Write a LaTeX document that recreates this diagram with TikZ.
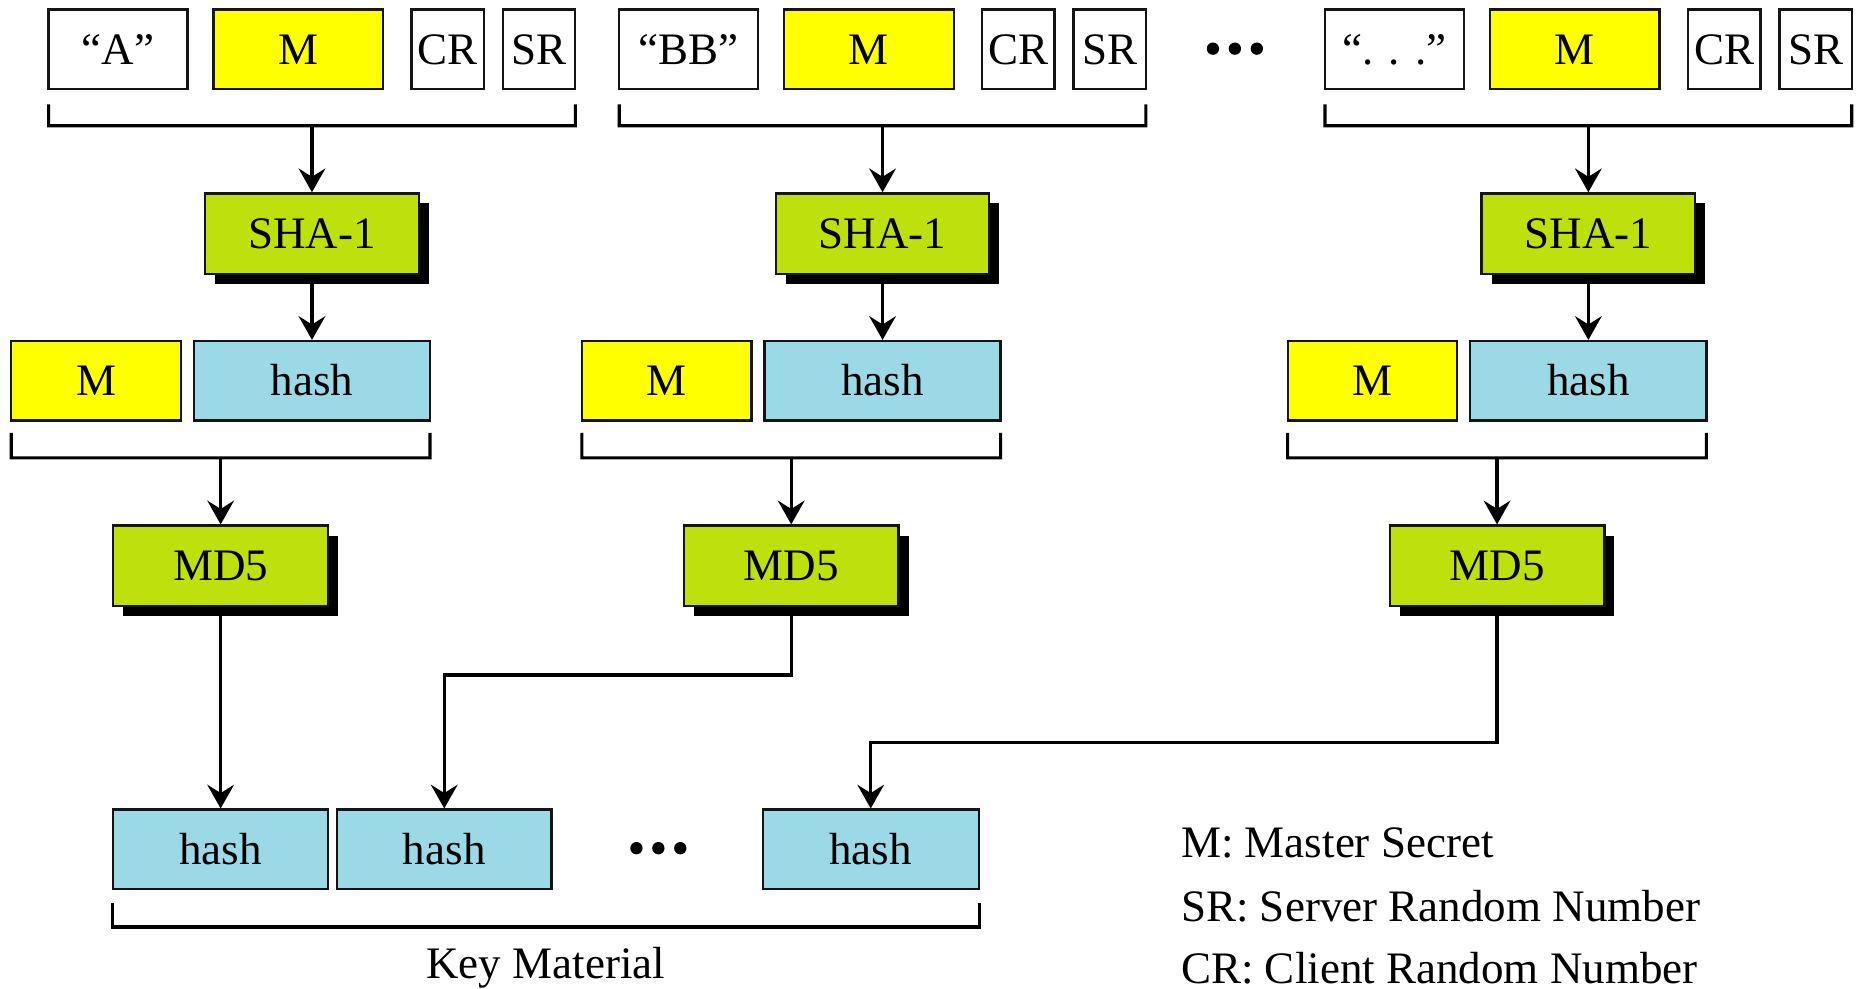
\documentclass[tikz,border=0pt]{standalone}
\usepackage{fontspec}
\setmainfont{Liberation Serif}
\usetikzlibrary{arrows.meta, shadows, positioning}
\definecolor{InkBlack}{RGB}{20, 20, 20}
\definecolor{MasterYellow}{RGB}{255, 255, 0}
\definecolor{DigestGreen}{RGB}{190, 224, 12}
\definecolor{HashBlue}{RGB}{155, 217, 230}

\begin{document}
\begin{tikzpicture}[y=-1cm, font=\fontsize{10.8}{13}\selectfont,
  field/.style={draw=InkBlack, line width=0.55pt, minimum height=0.67cm, inner sep=0pt, text height=7.2pt, text depth=0pt},
  plain/.style={field, fill=white},
  master/.style={field, fill=MasterYellow, minimum width=1.43cm},
  digest/.style={field, fill=HashBlue},
  algo/.style={field, fill=DigestGreen, minimum width=1.81cm, minimum height=0.68cm,
    drop shadow={shadow xshift=0.085cm, shadow yshift=-0.085cm, fill=black, opacity=1}},
  link/.style={line width=0.75pt, -{Stealth[length=2mm, width=2.25mm, inset=0.7mm]}},
  brace/.style={line width=0.75pt},
  legend/.style={anchor=base west, inner sep=0pt}]
\useasboundingbox (0,0) rectangle (15.68,8.33);

\foreach \gx/\tag [count=\i] in {0.41/“A”, 5.22/“BB”, 11.17/“. . .”} {
  \pgfmathsetmacro\hx{\gx+2.22}
  \node[plain, minimum width=1.17cm] (q\i) at (\gx+0.585, 0.415) {\tag};
  \node[master] (m\i) at (\gx+2.105, 0.415) {M};
  \node[plain, minimum width=0.61cm] (cr\i) at (\gx+3.365, 0.415) {CR};
  \node[plain, minimum width=0.61cm] (sr\i) at (\gx+4.135, 0.415) {SR};
  \draw[brace] (\gx, 0.88) -- ++(0,0.18) -- (\gx+4.44, 1.06) -- ++(0,-0.18);
  \coordinate (top\i) at (\hx, 1.06);
  \node[algo, minimum width=1.8cm] (sha\i) at (\hx, 1.97) {SHA-1};
  \node[master] (mm\i) at (\hx-1.82, 3.21) {M};
  \node[digest, minimum width=1.99cm] (hash\i) at (\hx, 3.21) {hash};
  \draw[brace] (\hx-2.535, 3.65) -- ++(0,0.21) -- (\hx+0.995, 3.86) -- ++(0,-0.21);
  \coordinate (mid\i) at (\hx-0.77, 3.86);
  \node[algo] (md\i) at (\hx-0.77, 4.77) {MD5};
  \draw[link] (top\i) -- (sha\i);
  \draw[link] (sha\i) -- (hash\i);
  \draw[link] (mid\i) -- (md\i);
}
\coordinate (dotstop) at (10.41, 0.41);
\foreach \d in {-1,0,1} \fill ([xshift=\d*0.185cm]dotstop) circle (0.052cm);

\node[digest, minimum width=1.81cm] (k1) at (1.86, 7.16) {hash};
\node[digest, minimum width=1.81cm] (k2) at (3.745, 7.16) {hash};
\node[digest, minimum width=1.82cm] (k3) at (7.34, 7.16) {hash};
\coordinate (dotsbot) at (5.55, 7.15);
\foreach \d in {-1,0,1} \fill ([xshift=\d*0.185cm]dotsbot) circle (0.052cm);
\draw[brace] ([yshift=-1.1mm]k1.south west) -- ++(0,0.2) -| ([yshift=-1.1mm]k3.south east);
\node[anchor=base] (keymat) at (4.60, 8.25) {Key Material};

\draw[link] (md1) -- (k1);
\draw[link] (md2.south) -- ++(0,0.57) -| (k2);
\draw[link] (md3.south) -- ++(0,1.14) -| (k3);

\node[legend] (legm) at (9.95, 7.23) {M: Master Secret};
\node[legend] (legsr) at (9.95, 7.77) {SR: Server Random Number};
\node[legend] (legcr) at (9.95, 8.29) {CR: Client Random Number};
\end{tikzpicture}
\end{document}
